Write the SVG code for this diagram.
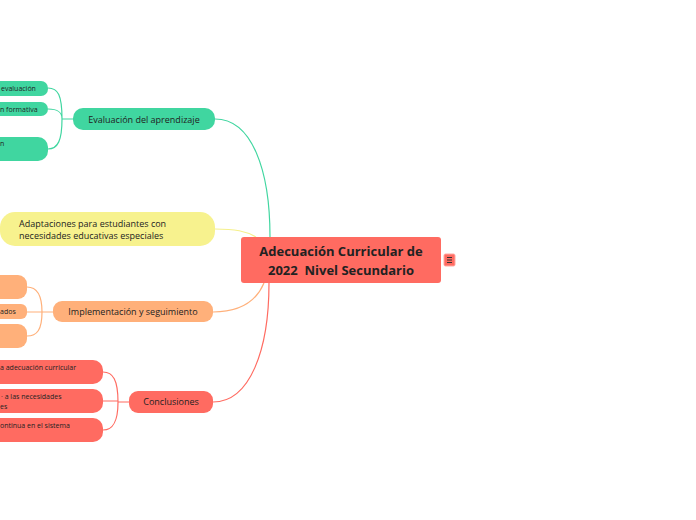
<svg xmlns="http://www.w3.org/2000/svg" width="696" height="520" viewBox="0 0 696 520">
<style>
text{font-family:"Open Sans","Noto Sans","DejaVu Sans",sans-serif;fill:#222}
.c{stroke-width:1.2;fill:none}
.g{stroke:#40d6a0}.y{stroke:#f5f08c}.o{stroke:#ffb07a}.r{stroke:#ff6b61}
.gf{fill:#40d6a0}.yf{fill:#f7f28e}.of{fill:#ffb07a}.rf{fill:#ff6b61}
.m{font-size:9px;text-anchor:middle}
.s{font-size:7px}
</style>
<rect width="696" height="520" fill="#fff"/>
<g id="connectors">
<path class="c g" d="M215,119 C252,119 270,170 270,237"/>
<path class="c y" d="M215,229 C235,229 246,231 256,237"/>
<path class="c o" d="M213,312 C240,312 256,302 264,283"/>
<path class="c r" d="M213,402 C250,402 269,350 269,283"/>
<path class="c g" d="M73,119 H62 M48,88 C58,88 62,95 62,119 M48,109 C58,109 62,112 62,119 M48,149 C58,149 62,140 62,119"/>
<path class="c o" d="M53,312 H42 M27,287 C37,287 42,295 42,312 M27,312 H42 M27,336 C37,336 42,330 42,312"/>
<path class="c r" d="M129,402 H118 M103,372 C113,372 118,380 118,402 M103,401 H118 M103,430 C113,430 118,422 118,402"/>
</g>
<g id="center">
<rect class="rf" x="241" y="237" width="200" height="46" rx="3"/>
<text x="341" y="256" font-size="13" font-weight="bold" text-anchor="middle">Adecuación Curricular de</text>
<text x="341" y="275" font-size="13" font-weight="bold" text-anchor="middle" xml:space="preserve">2022  Nivel Secundario</text>
</g>
<g id="center-icon">
<rect x="444" y="254" width="11" height="12" rx="1.5" fill="#ff6b61" stroke="#ffa8a2" stroke-width="1"/>
<path d="M447,257.5 H452 M447,260 H452 M447,262.5 H452" stroke="#333" stroke-width="1"/>
</g>
<g id="evaluacion">
<rect class="gf" x="73" y="108" width="142" height="22" rx="10"/>
<text class="m" x="144" y="122.5">Evaluación del aprendizaje</text>
</g>
<g id="eval-1">
<rect class="gf" x="-20" y="81" width="68" height="15" rx="7"/>
<text class="s" x="1" y="91">evaluación</text>
</g>
<g id="eval-2">
<rect class="gf" x="-20" y="102" width="68" height="14" rx="7"/>
<text class="s" x="0" y="111.5">n formativa</text>
</g>
<g id="eval-3">
<rect class="gf" x="-20" y="137" width="68" height="24" rx="10"/>
<text class="s" x="0" y="146">n</text>
</g>
<g id="adaptaciones">
<rect class="yf" x="0" y="212" width="215" height="34" rx="15"/>
<text font-size="9" x="19" y="227">Adaptaciones para estudiantes con</text>
<text font-size="9" x="19" y="239">necesidades educativas especiales</text>
</g>
<g id="implementacion">
<rect class="of" x="53" y="301" width="160" height="21" rx="9"/>
<text class="m" x="133" y="315">Implementación y seguimiento</text>
</g>
<g id="impl-1"><rect class="of" x="-20" y="275" width="47" height="24" rx="9"/></g>
<g id="impl-2">
<rect class="of" x="-20" y="304" width="47" height="15" rx="6"/>
<text class="s" x="0" y="314">ados</text>
</g>
<g id="impl-3"><rect class="of" x="-20" y="324" width="47" height="24" rx="9"/></g>
<g id="conclusiones">
<rect class="rf" x="129" y="391" width="84" height="22" rx="9"/>
<text class="m" x="171" y="405">Conclusiones</text>
</g>
<g id="concl-1">
<rect class="rf" x="-20" y="360" width="123" height="24" rx="10"/>
<text class="s" x="0" y="370">a adecuación curricular</text>
</g>
<g id="concl-2">
<rect class="rf" x="-20" y="389" width="123" height="24" rx="10"/>
<text class="s" x="1" y="399">· a las necesidades</text>
<text class="s" x="0" y="409">es</text>
</g>
<g id="concl-3">
<rect class="rf" x="-20" y="418" width="123" height="24" rx="10"/>
<text class="s" x="0" y="428">ontinua en el sistema</text>
</g>
</svg>
